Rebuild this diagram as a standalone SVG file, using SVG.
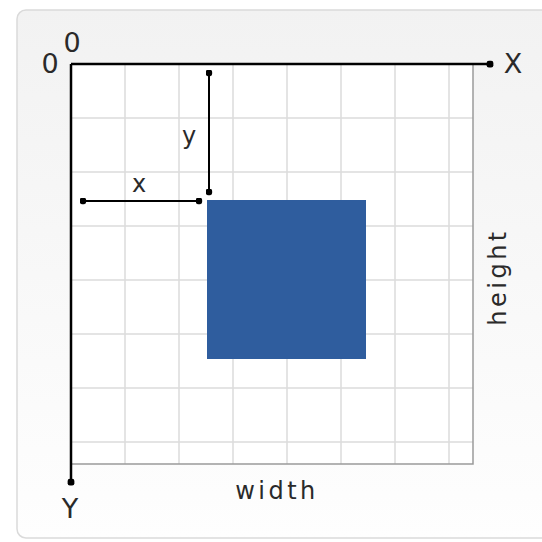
<svg xmlns="http://www.w3.org/2000/svg" width="542" height="542" viewBox="0 0 542 542">
<defs>
<linearGradient id="bg" x1="0" y1="0" x2="0" y2="1">
<stop offset="0" stop-color="#f2f2f2"/>
<stop offset="1" stop-color="#fefefe"/>
</linearGradient>
<marker id="dot" viewBox="0 0 10 10" refX="5" refY="5" markerWidth="3.5" markerHeight="3.5" markerUnits="strokeWidth">
<rect x="0.5" y="0.5" width="9" height="9" rx="3" fill="#000"/>
</marker>
<marker id="dotA" viewBox="0 0 10 10" refX="5" refY="5" markerWidth="3" markerHeight="3" markerUnits="strokeWidth">
<rect x="0.5" y="0.5" width="9" height="9" rx="3" fill="#000"/>
</marker>
</defs>
<style>
.grid{stroke:#dcdcdc;stroke-width:1.5;fill:none}
.axis{stroke:#000;stroke-width:2.5;fill:none}
.dim{stroke:#000;stroke-width:2;fill:none}
.lbl{font-family:"DejaVu Sans",sans-serif;fill:#2a2a2a;font-size:24px}
.cap{font-size:27px}
</style>
<g id="panel">
<rect x="17" y="10" width="540" height="528" rx="9" fill="url(#bg)" stroke="#dadada" stroke-width="1.5"/>
</g>
<g id="grid">
<rect x="71" y="64" width="402" height="400" fill="#fff"/>
<path class="grid" d="M125 64V464M179 64V464M233 64V464M287 64V464M341 64V464M395 64V464M449 64V464M71 118H473M71 172H473M71 226H473M71 280H473M71 334H473M71 388H473M71 442H473"/>
<path d="M473 64V464H71" fill="none" stroke="#9a9a9a" stroke-width="1.5"/>
</g>
<g id="rect">
<rect x="207" y="200" width="159" height="159" fill="#2f5d9e"/>
</g>
<g id="connectors">
<line class="axis" x1="71" y1="64" x2="490" y2="64" marker-end="url(#dotA)"/>
<line class="axis" x1="71" y1="64" x2="71" y2="482" marker-end="url(#dotA)"/>
<line class="dim" x1="209" y1="73" x2="209" y2="192" marker-start="url(#dot)" marker-end="url(#dot)"/>
<line class="dim" x1="83" y1="201" x2="199" y2="201" marker-start="url(#dot)" marker-end="url(#dot)"/>
</g>
<g id="labels">
<text class="lbl cap" x="50" y="73" text-anchor="middle">0</text>
<text class="lbl cap" x="72" y="52" text-anchor="middle">0</text>
<text class="lbl cap" x="513" y="73" text-anchor="middle">X</text>
<text class="lbl cap" x="70" y="518" text-anchor="middle">Y</text>
<text class="lbl" x="189" y="144" text-anchor="middle" font-size="27">y</text>
<text class="lbl" x="139" y="192" text-anchor="middle" font-size="27">x</text>
<text class="lbl" x="277" y="499" text-anchor="middle" letter-spacing="3.5">width</text>
<text class="lbl" x="0" y="0" text-anchor="middle" letter-spacing="3.5" transform="translate(506 277) rotate(-90)">height</text>
</g>
</svg>
